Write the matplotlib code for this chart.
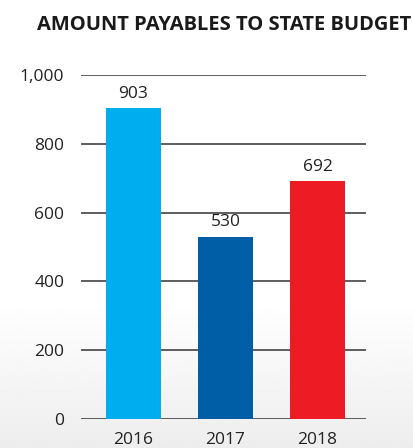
import matplotlib.pyplot as plt
import numpy as np
from matplotlib.ticker import FuncFormatter

plt.rcParams['font.family'] = ['Open Sans', 'DejaVu Sans']

years = ['2016', '2017', '2018']
amounts = [903, 530, 692]
colors = ['#00AEEF', '#005EA6', '#ED1C24']
yticks = [0, 200, 400, 600, 800, 1000]

fig = plt.figure(figsize=(4.14, 4.48), dpi=100)

# soft grey fade towards the bottom of the card
bg = fig.add_axes([0, 0, 1, 1], zorder=-10)
h = 448
shade = np.ones(h)
start = 300
t = np.clip((np.arange(h) - start) / (h - start), 0, 1)
shade = 1 - t * (1 - 0.93)
bg.imshow(np.tile(shade[:, None], (1, 10)), cmap='gray', vmin=0, vmax=1,
          aspect='auto', extent=[0, 1, 0, 1], origin='upper')
bg.axis('off')

ax = fig.add_axes([81 / 414, 1 - 419 / 448, 285 / 414, 344 / 448])
ax.patch.set_alpha(0)
x = np.arange(len(years))
bars = ax.bar(x, amounts, width=0.6, color=colors, zorder=3)

for b, v in zip(bars, amounts):
    ax.text(b.get_x() + b.get_width() / 2, v + 18, str(v), ha='center',
            va='bottom', fontsize=12.5, color='#222222')

ax.set_ylim(0, 1000)
ax.set_xlim(-0.571, 2.527)
ax.set_yticks(yticks)
ax.yaxis.set_major_formatter(FuncFormatter(lambda v, p: f'{int(v):,}'))
ax.set_xticks(x)
ax.set_xticklabels(years)
ax.grid(axis='y', color='#333333', linewidth=1.1, zorder=0)
for s in ax.spines.values():
    s.set_visible(False)
ax.tick_params(axis='both', length=0, labelsize=12.5, colors='#222222')
ax.tick_params(axis='y', pad=12)
ax.tick_params(axis='x', pad=9)

fig.text(37 / 414, 1 - 30 / 448, 'AMOUNT PAYABLES TO STATE BUDGET',
         fontsize=14.5, fontweight='bold', color='#1a1a1a', va='baseline')

fig.savefig('out.png', dpi=100)
